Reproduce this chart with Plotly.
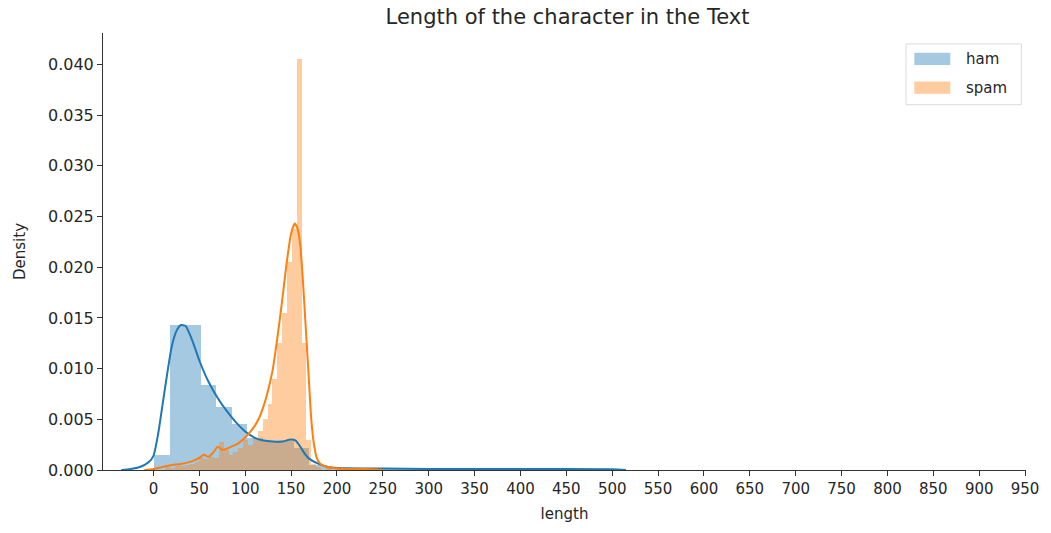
import plotly.graph_objects as go

# ---------------- data ----------------
title_text = "Length of the character in the Text"
x_label = "length"
y_label = "Density"
series_names = ["ham", "spam"]

# ham histogram: bin left edges and densities
ham_bin_width = 16.9
ham_bin_left = [0.8, 17.7, 34.6, 51.5, 68.4, 85.3, 102.2, 119.1, 136.0, 152.9,
                169.8, 186.7, 203.6, 220.5, 237.4, 254.3, 271.2, 288.1, 305.0,
                321.9, 355.7, 389.5, 423.3, 457.1, 490.9]
ham_density = [0.0015, 0.0143, 0.0143, 0.0084, 0.0062, 0.0045, 0.0032, 0.0029,
               0.0029, 0.0022, 0.0005, 0.0003, 0.0002, 0.00015, 0.0001, 0.0001,
               0.0001, 0.0001, 0.00008, 0.00008, 0.00006, 0.00006, 0.00005,
               0.00005, 0.00004]

# spam histogram
spam_bin_width = 5.3
spam_bin_left = [13.0, 18.3, 23.6, 28.9, 34.2, 39.5, 44.8, 50.1, 55.4, 60.7,
                 66.0, 71.3, 76.6, 81.9, 87.2, 92.5, 97.8, 103.1, 108.4, 113.7,
                 119.0, 124.3, 129.6, 134.9, 140.2, 145.5, 150.8, 156.1, 161.4,
                 166.7, 172.0, 177.3, 188.0, 198.6, 214.5]
spam_density = [0.0003, 0.0002, 0.0004, 0.0004, 0.0005, 0.0006, 0.0008, 0.0012,
                0.0011, 0.0013, 0.0012, 0.0028, 0.0020, 0.0015, 0.0018, 0.0022,
                0.0030, 0.0025, 0.0032, 0.0038, 0.0050, 0.0065, 0.0090, 0.0125,
                0.0155, 0.0205, 0.0238, 0.0405, 0.0125, 0.0030, 0.0006, 0.0003,
                0.0002, 0.0002, 0.0001]

# KDE curves
ham_kde_x = [-35, -25, -15, -5, 0, 5, 10, 15, 20, 25, 30, 35, 40, 45, 50, 60,
             70, 80, 90, 100, 110, 120, 130, 140, 150, 155, 160, 165, 170, 180,
             190, 200, 250, 300, 400, 500, 515]
ham_kde_y = [0.0, 0.0001, 0.0003, 0.0008, 0.0014, 0.0035, 0.0065, 0.0095,
             0.0122, 0.0137, 0.0143, 0.0142, 0.0133, 0.0121, 0.0108, 0.0087,
             0.0071, 0.0058, 0.0047, 0.0038, 0.0032, 0.0029, 0.0028, 0.0028,
             0.0030, 0.0029, 0.0023, 0.0016, 0.0011, 0.0006, 0.0003, 0.0002,
             0.00015, 0.0001, 0.0001, 0.00008, 0.0]

spam_kde_x = [-10, 0, 10, 20, 30, 40, 50, 55, 60, 65, 70, 75, 80, 85, 90, 95,
              100, 105, 110, 115, 120, 125, 130, 135, 140, 145, 150, 154, 157,
              160, 163, 166, 169, 172, 175, 178, 182, 190, 210, 230, 250]
spam_kde_y = [0.0, 0.0001, 0.0003, 0.0005, 0.0006, 0.0008, 0.0012, 0.0015,
              0.0013, 0.0017, 0.0023, 0.0020, 0.0021, 0.0023, 0.0025, 0.0028,
              0.0032, 0.0037, 0.0043, 0.0051, 0.0063, 0.0079, 0.0099, 0.0130,
              0.0165, 0.0203, 0.0233, 0.0243, 0.0238, 0.0222, 0.0185, 0.0140,
              0.0095, 0.0050, 0.0025, 0.0012, 0.0006, 0.0003, 0.0001, 0.0001,
              0.0]

x_tick_values = list(range(0, 1000, 50))
y_tick_values = [0.000, 0.005, 0.010, 0.015, 0.020, 0.025, 0.030, 0.035, 0.040]

# ---------------- styling ----------------
C_HAM = "#1f77b4"
C_SPAM = "#ff7f0e"
BAR_HAM = "rgba(31,119,180,0.4)"
BAR_SPAM = "rgba(255,127,14,0.4)"
FONT = "DejaVu Sans"
TXT = "#262626"

fig = go.Figure()

fig.add_trace(go.Bar(
    x=[l + ham_bin_width / 2 for l in ham_bin_left], y=ham_density,
    width=[ham_bin_width] * len(ham_bin_left),
    marker=dict(color=BAR_HAM, line=dict(width=0)), showlegend=False,
    name=series_names[0]))
fig.add_trace(go.Scatter(
    x=ham_kde_x, y=ham_kde_y, mode="lines",
    line=dict(color=C_HAM, width=2, shape="spline", smoothing=0.6),
    showlegend=False))
fig.add_trace(go.Bar(
    x=[l + spam_bin_width / 2 for l in spam_bin_left], y=spam_density,
    width=[spam_bin_width] * len(spam_bin_left),
    marker=dict(color=BAR_SPAM, line=dict(width=0)), showlegend=False,
    name=series_names[1]))
fig.add_trace(go.Scatter(
    x=spam_kde_x, y=spam_kde_y, mode="lines",
    line=dict(color=C_SPAM, width=2, shape="spline", smoothing=0.6),
    showlegend=False))

fig.update_layout(
    width=1051, height=533,
    margin=dict(l=103, r=21, t=33, b=63),
    paper_bgcolor="white", plot_bgcolor="white",
    barmode="overlay", bargap=0,
    font=dict(family=FONT, size=15, color=TXT),
    title=dict(text=title_text, x=0.54, xanchor="center", y=0.968,
               yanchor="middle", font=dict(size=21, color=TXT)),
    showlegend=False,
)
fig.update_xaxes(
    range=[-55, 951], tickvals=x_tick_values, ticks="outside", ticklen=5,
    tickwidth=1, tickcolor="#333", showline=True, linecolor="#333",
    linewidth=1, showgrid=False, zeroline=False,
    title=dict(text=x_label, standoff=11, font=dict(size=15)),
    tickfont=dict(size=15))
fig.update_yaxes(
    range=[0, 0.0431], tickvals=y_tick_values, tickformat=".3f",
    ticks="outside", ticklen=5, tickwidth=1, tickcolor="#333",
    showline=True, linecolor="#333", linewidth=1, showgrid=False,
    zeroline=False, title=dict(text=y_label, standoff=18, font=dict(size=15)),
    tickfont=dict(size=16))

# legend drawn as in the reference (box with wide colour patches)
fig.add_shape(type="rect", xref="paper", yref="paper",
              x0=0.870, x1=0.995, y0=0.836, y1=0.975,
              line=dict(color="#dcdcdc", width=1), fillcolor="white",
              layer="above")
for i, (nm, col) in enumerate(zip(series_names, [BAR_HAM, BAR_SPAM])):
    yc = 0.941 - i * 0.066
    fig.add_shape(type="rect", xref="paper", yref="paper",
                  x0=0.879, x1=0.918, y0=yc - 0.014, y1=yc + 0.014,
                  line=dict(width=0), fillcolor=col, layer="above")
    fig.add_annotation(xref="paper", yref="paper", x=0.933, y=yc,
                       text=nm, showarrow=False, xanchor="left",
                       yanchor="middle", font=dict(size=15, color=TXT))

fig.write_html("out.html")
